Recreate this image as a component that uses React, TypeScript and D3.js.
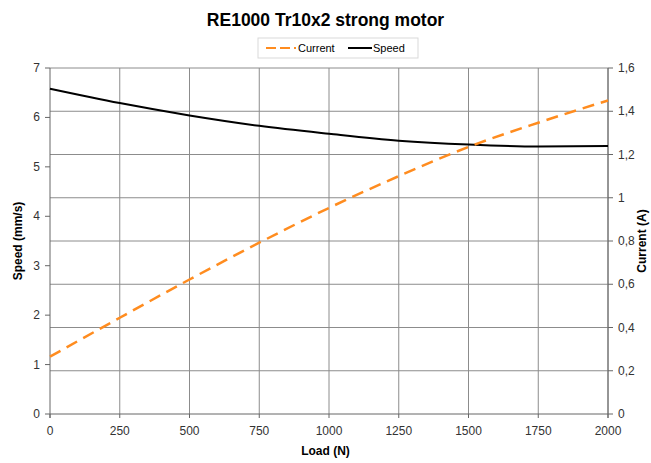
import * as React from 'react'
import * as d3 from 'd3'

const loads = [0, 250, 500, 750, 1000, 1250, 1500, 1750, 2000]
const speed = [6.58, 6.29, 6.04, 5.83, 5.67, 5.53, 5.45, 5.41, 5.42]
const current = [0.265, 0.445, 0.622, 0.792, 0.953, 1.1, 1.235, 1.347, 1.45]

const speedTicks = [0, 1, 2, 3, 4, 5, 6, 7]
const currentTicks = [0, 0.2, 0.4, 0.6, 0.8, 1, 1.2, 1.4, 1.6]

const width = 651
const height = 463
const margin = { top: 68, right: 43, bottom: 49, left: 50 }
const font = 'Arial, "Liberation Sans", sans-serif'
const orange = '#ff8c1f'
const grid = '#8c8c8c'

export default function App() {
  const x = d3.scaleLinear().domain([0, 2000]).range([margin.left, width - margin.right])
  const yL = d3.scaleLinear().domain([0, 7]).range([height - margin.bottom, margin.top])
  const yR = d3.scaleLinear().domain([0, 1.6]).range([height - margin.bottom, margin.top])

  const speedLine = d3.line<number>()
    .x((_, i) => x(loads[i]))
    .y(d => yL(d))
    .curve(d3.curveMonotoneX)
  const currentLine = d3.line<number>()
    .x((_, i) => x(loads[i]))
    .y(d => yR(d))
    .curve(d3.curveMonotoneX)

  const x0 = x(0), x1 = x(2000), yb = yL(0), yt = yL(7)
  const fmtR = (v: number) => String(Math.round(v * 10) / 10).replace('.', ',')

  return (
    <svg width={width} height={height} style={{ position: 'absolute', left: 0, top: 0, background: '#fff' }} fontFamily={font}>
      <text x={width / 2} y={26} textAnchor="middle" fontSize={17.5} fontWeight="bold" fill="#000">
        RE1000 Tr10x2 strong motor
      </text>

      {/* legend */}
      <rect x={258} y={38} width={160} height={20} fill="#fff" stroke="#d9d9d9" />
      <line x1={266} x2={296} y1={48} y2={48} stroke={orange} strokeWidth={2} strokeDasharray="10,4" />
      <text x={298} y={52} fontSize={11} fill="#000">Current</text>
      <line x1={348} x2={372} y1={48} y2={48} stroke="#000" strokeWidth={2} />
      <text x={373} y={52} fontSize={11} fill="#000">Speed</text>

      {/* grid */}
      {currentTicks.slice(1).map(t => (
        <line key={'h' + t} x1={x0} x2={x1} y1={yR(t)} y2={yR(t)} stroke={grid} strokeWidth={1} />
      ))}
      {loads.slice(1).map(t => (
        <line key={'v' + t} x1={x(t)} x2={x(t)} y1={yt} y2={yb} stroke={grid} strokeWidth={1} />
      ))}

      {/* axes */}
      <line x1={x0} x2={x0} y1={yt} y2={yb + 4} stroke="#666" />
      <line x1={x1} x2={x1} y1={yt} y2={yb + 4} stroke="#666" />
      <line x1={x0} x2={x1} y1={yb} y2={yb} stroke="#666" />
      {speedTicks.map(t => (
        <g key={'l' + t}>
          <line x1={x0 - 5} x2={x0} y1={yL(t)} y2={yL(t)} stroke="#666" />
          <text x={x0 - 10} y={yL(t) + 4} textAnchor="end" fontSize={12} fill="#333">{t}</text>
        </g>
      ))}
      {currentTicks.map(t => (
        <g key={'r' + t}>
          <line x1={x1} x2={x1 + 5} y1={yR(t)} y2={yR(t)} stroke="#666" />
          <text x={x1 + 10} y={yR(t) + 4} textAnchor="start" fontSize={12} fill="#333">{fmtR(t)}</text>
        </g>
      ))}
      {loads.map(t => (
        <g key={'b' + t}>
          <line x1={x(t)} x2={x(t)} y1={yb} y2={yb + 4} stroke="#666" />
          <text x={x(t)} y={yb + 21} textAnchor="middle" fontSize={12} fill="#333">{t}</text>
        </g>
      ))}

      <text x={width / 2} y={455} textAnchor="middle" fontSize={12} fontWeight="bold" fill="#000">Load (N)</text>
      <text transform={`translate(22, ${(yt + yb) / 2}) rotate(-90)`} textAnchor="middle" fontSize={12} fontWeight="bold" fill="#000">Speed (mm/s)</text>
      <text transform={`translate(646, ${(yt + yb) / 2}) rotate(-90)`} textAnchor="middle" fontSize={12} fontWeight="bold" fill="#000">Current (A)</text>

      {/* series */}
      <path d={speedLine(speed) || ''} fill="none" stroke="#000" strokeWidth={2} />
      <path d={currentLine(current) || ''} fill="none" stroke={orange} strokeWidth={2.5} strokeDasharray="12,7" />
    </svg>
  )
}
